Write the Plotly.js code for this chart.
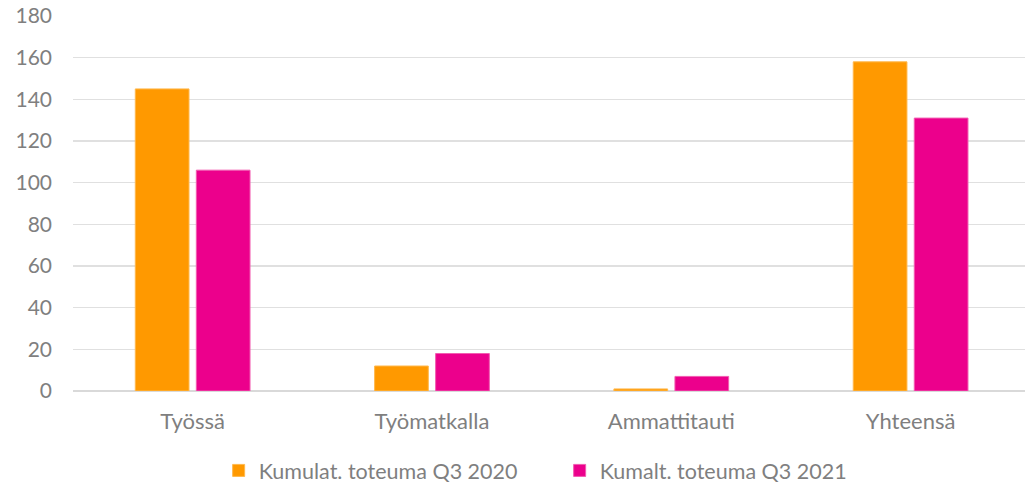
<!DOCTYPE html>
<html>
<head>
<meta charset="utf-8">
<script src="https://cdn.plot.ly/plotly-3.0.1.min.js"></script>
<style>html,body{margin:0;padding:0;background:#fff;}#chart{width:1025px;height:488px;}</style>
</head>
<body>
<div id="chart"></div>
<script>
const categories = ["Työssä", "Työmatkalla", "Ammattitauti", "Yhteensä"];
const seriesNames = ["Kumulat. toteuma Q3 2020", "Kumalt. toteuma Q3 2021"];
const values2020 = [145, 12, 1, 158];
const values2021 = [106, 18, 7, 131];
const yTicks = [0, 20, 40, 60, 80, 100, 120, 140, 160, 180];

const xTickFont = {family: "Lato, 'Open Sans', sans-serif", size: 22, color: "#7f7f7f"};
const yTickFont = {family: "Lato, 'Open Sans', sans-serif", size: 21, color: "#7f7f7f"};
const legendFont = {family: "Lato, 'Open Sans', sans-serif", size: 21.5, color: "#7f7f7f"};

const traces = [
  {type: "bar", name: seriesNames[0], x: categories, y: values2020,
   marker: {color: "#FF9900", line: {color: "#FFB84D", width: 1}}, hoverinfo: "none"},
  {type: "bar", name: seriesNames[1], x: categories, y: values2021,
   marker: {color: "#EC008C", line: {color: "#F25CB0", width: 1}}, hoverinfo: "none"}
];

const layout = {
  width: 1025, height: 488,
  margin: {l: 73, r: 0, t: 16, b: 97},
  paper_bgcolor: "#fff", plot_bgcolor: "#fff",
  font: yTickFont,
  barmode: "group",
  bargap: 0.49,
  bargroupgap: 0.12,
  showlegend: true,
  legend: {orientation: "h", x: 0.153, xanchor: "left", yref: "container", y: 0.036, yanchor: "middle",
           font: legendFont, itemwidth: 30, entrywidth: 296, entrywidthmode: "pixels", traceorder: "normal"},
  xaxis: {range: [-0.5, 3.478], automargin: false, tickfont: xTickFont, showgrid: false, zeroline: false, showline: false, ticks: "", ticklabelstandoff: 15},
  yaxis: {range: [0, 180], automargin: false, tickvals: yTicks, ticktext: yTicks.map(String), tickfont: yTickFont,
          showgrid: true, gridcolor: "#e0e0e0", gridwidth: 1.5, zeroline: true, zerolinecolor: "#d9d9d9",
          zerolinewidth: 1.5, showline: false, ticks: "", ticklabelstandoff: 20}
};

Plotly.newPlot("chart", traces, layout, {staticPlot: true, displayModeBar: false});
</script>
</body>
</html>
